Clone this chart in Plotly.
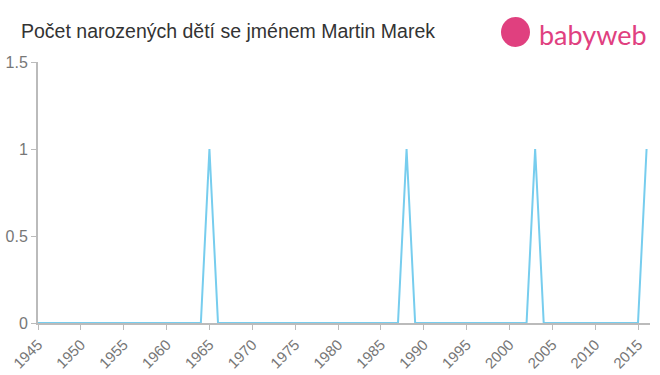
import plotly.graph_objects as go

years = list(range(1945, 2017))
peak_years = [1965, 1988, 2003, 2016]
counts = [1 if y in peak_years else 0 for y in years]
x_ticks = list(range(1945, 2016, 5))
y_ticks = [0, 0.5, 1, 1.5]
y_tick_labels = ["0", "0.5", "1", "1.5"]

fig = go.Figure()
fig.add_trace(go.Scatter(x=years, y=counts, mode="lines",
                         line=dict(color="#77cdee", width=2), hoverinfo="x+y"))

fig.update_layout(
    width=660, height=375,
    margin=dict(l=38, r=10, t=62, b=52),
    paper_bgcolor="white", plot_bgcolor="white",
    showlegend=False,
    font=dict(family="Liberation Sans, Arial, sans-serif", color="#777"),
    title=dict(text="Počet narozených dětí se jménem Martin Marek",
               x=21/660, xanchor="left", y=1-31/375, yanchor="middle",
               font=dict(size=19.5, color="#333")),
)
fig.update_xaxes(range=[1945, 2016.4], tickvals=x_ticks, tickangle=-45,
                 ticks="outside", ticklen=5, tickcolor="#bbb", automargin=False,
                 showline=True, linecolor="#bbb", linewidth=2,
                 showgrid=False, zeroline=False, tickfont=dict(size=15, color="#777"))
fig.update_yaxes(range=[0, 1.5], tickvals=y_ticks, ticktext=y_tick_labels,
                 ticks="outside", ticklen=5, tickcolor="#bbb", automargin=False,
                 showline=True, linecolor="#bbb", linewidth=2,
                 showgrid=False, zeroline=False, tickfont=dict(size=16, color="#777"))

# logo
fig.add_shape(type="circle", xref="paper", yref="paper",
              x0=(501-38)/612, x1=(530-38)/612,
              y0=(323-47)/261, y1=(323-17)/261,
              fillcolor="#e0407f", line=dict(width=0))
fig.add_annotation(text="babyweb", xref="paper", yref="paper",
                   x=(537-38)/612, y=(323-34)/261, xanchor="left", yanchor="middle",
                   showarrow=False, font=dict(size=27, color="#e0407f",
                                              family="Lato, sans-serif"))

fig.write_html("out.html")
